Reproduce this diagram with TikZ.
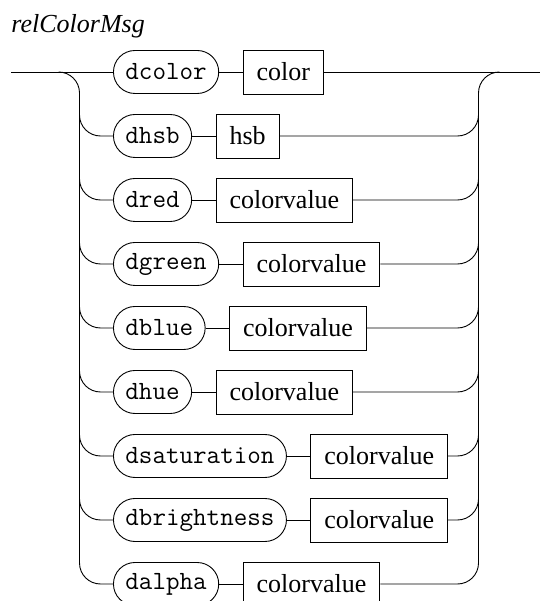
\documentclass[tikz,border=0pt]{standalone}
\usepackage{fontspec}
\setmainfont{Liberation Serif}
\usetikzlibrary{positioning}

\begin{document}
\begin{tikzpicture}
[x=1pt,y=1pt,line width=0.9pt,
kw/.style={rectangle, rounded corners=21.5pt, draw, minimum height=43pt, inner xsep=12pt, font=\fontsize{26.3}{30}\selectfont\ttfamily},
ref/.style={rectangle, draw, minimum height=44pt, inner xsep=13.5pt, font=\fontsize{26}{30}\selectfont},
]
\useasboundingbox (0,0) rectangle (540,601);

\node[anchor=base west,inner sep=0pt] (title) at (11,568) {\fontsize{26}{30}\selectfont\itshape relColorMsg};

\coordinate (in) at (11,529);
\coordinate (out) at (540,529);
\coordinate (rj) at (457.5,529);

\node[kw,anchor=west] (dcolor) at (113,529){dcolor};
\node[ref,right=23.5pt of dcolor] (color){color};
\node[kw,anchor=west] (dhsb) at (113,465){dhsb};
\node[ref,right=23.5pt of dhsb] (hsb){hsb};
\node[kw,anchor=west] (dred) at (113,401){dred};
\node[ref,right=23.5pt of dred] (redval){colorvalue};
\node[kw,anchor=west] (dgreen) at (113,337){dgreen};
\node[ref,right=23.5pt of dgreen] (greenval){colorvalue};
\node[kw,anchor=west] (dblue) at (113,273){dblue};
\node[ref,right=23.5pt of dblue] (blueval){colorvalue};
\node[kw,anchor=west] (dhue) at (113,209){dhue};
\node[ref,right=23.5pt of dhue] (hueval){colorvalue};
\node[kw,anchor=west] (dsat) at (113,145){dsaturation};
\node[ref,right=23.5pt of dsat] (satval){colorvalue};
\node[kw,anchor=west] (dbright) at (113,81){dbrightness};
\node[ref,right=23.5pt of dbright] (brightval){colorvalue};
\node[kw,anchor=west] (dalpha) at (113,17){dalpha};
\node[ref,right=23.5pt of dalpha] (alphaval){colorvalue};

% main line and the two rails
\draw (in) -- (dcolor) -- (color) -- (out);
\draw (58.5,529) arc[start angle=90,end angle=0,radius=21] -- (79.5,38);
\draw (478.5,38) -- (478.5,508) arc[start angle=180,end angle=90,radius=21];

% branches in
\draw (dhsb.west) -- ++(-12.5,0) arc[start angle=270,end angle=180,radius=21];
\draw (dred.west) -- ++(-12.5,0) arc[start angle=270,end angle=180,radius=21];
\draw (dgreen.west) -- ++(-12.5,0) arc[start angle=270,end angle=180,radius=21];
\draw (dblue.west) -- ++(-12.5,0) arc[start angle=270,end angle=180,radius=21];
\draw (dhue.west) -- ++(-12.5,0) arc[start angle=270,end angle=180,radius=21];
\draw (dsat.west) -- ++(-12.5,0) arc[start angle=270,end angle=180,radius=21];
\draw (dbright.west) -- ++(-12.5,0) arc[start angle=270,end angle=180,radius=21];
\draw (dalpha.west) -- ++(-12.5,0) arc[start angle=270,end angle=180,radius=21];

% middle links
\draw (dhsb) -- (hsb);
\draw (dred) -- (redval);
\draw (dgreen) -- (greenval);
\draw (dblue) -- (blueval);
\draw (dhue) -- (hueval);
\draw (dsat) -- (satval);
\draw (dbright) -- (brightval);
\draw (dalpha) -- (alphaval);

% branches out
\draw (hsb) -- (hsb.east -| rj) arc[start angle=270,end angle=360,radius=21];
\draw (redval) -- (redval.east -| rj) arc[start angle=270,end angle=360,radius=21];
\draw (greenval) -- (greenval.east -| rj) arc[start angle=270,end angle=360,radius=21];
\draw (blueval) -- (blueval.east -| rj) arc[start angle=270,end angle=360,radius=21];
\draw (hueval) -- (hueval.east -| rj) arc[start angle=270,end angle=360,radius=21];
\draw (satval) -- (satval.east -| rj) arc[start angle=270,end angle=360,radius=21];
\draw (brightval) -- (brightval.east -| rj) arc[start angle=270,end angle=360,radius=21];
\draw (alphaval) -- (alphaval.east -| rj) arc[start angle=270,end angle=360,radius=21];
\end{tikzpicture}
\end{document}
